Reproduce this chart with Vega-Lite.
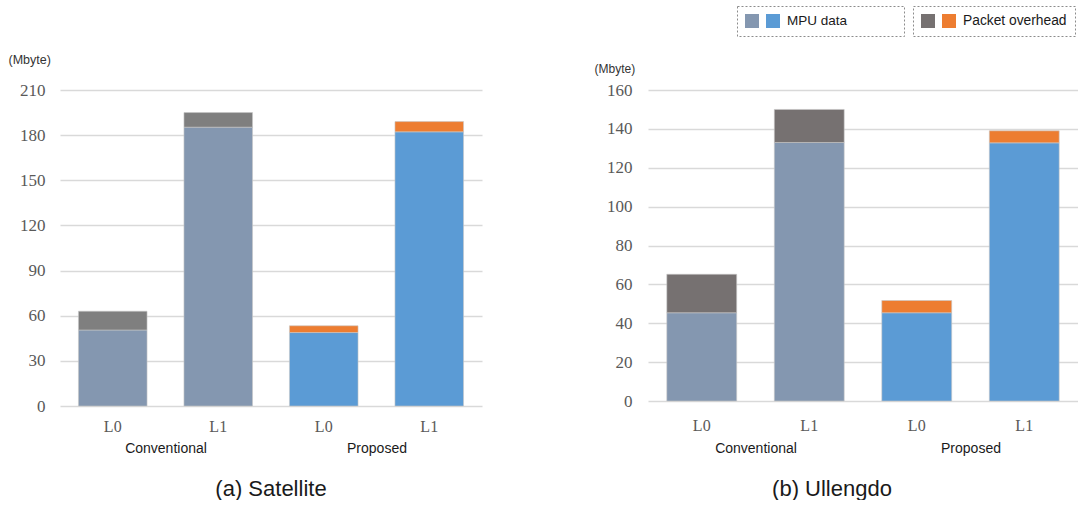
{
  "$schema": "https://vega.github.io/schema/vega-lite/v6.json",
  "background": "white",
  "padding": {"left": 8, "top": 5, "right": 0, "bottom": 0},
  "config": {"view": {"stroke": null}, "font": "Liberation Sans", "legend": {"strokeDash": [2, 2], "strokeColor": "#8c8c8c"}},
  "data": {"values": [
    {"panel": "Satellite", "scheme": "Conventional", "level": "L0", "bar": "Conventional L0", "mpu": 50.5, "total": 63},
    {"panel": "Satellite", "scheme": "Conventional", "level": "L1", "bar": "Conventional L1", "mpu": 185.3, "total": 195},
    {"panel": "Satellite", "scheme": "Proposed", "level": "L0", "bar": "Proposed L0", "mpu": 48.8, "total": 53.3},
    {"panel": "Satellite", "scheme": "Proposed", "level": "L1", "bar": "Proposed L1", "mpu": 182.2, "total": 189},
    {"panel": "Ullengdo", "scheme": "Conventional", "level": "L0", "bar": "Conventional L0", "mpu": 45.4, "total": 65.2},
    {"panel": "Ullengdo", "scheme": "Conventional", "level": "L1", "bar": "Conventional L1", "mpu": 133, "total": 150},
    {"panel": "Ullengdo", "scheme": "Proposed", "level": "L0", "bar": "Proposed L0", "mpu": 45.4, "total": 51.7},
    {"panel": "Ullengdo", "scheme": "Proposed", "level": "L1", "bar": "Proposed L1", "mpu": 132.8, "total": 139}
  ]},
  "bounds": "flush",
  "spacing": 166,
  "resolve": {"scale": {"fill": "independent", "color": "independent"}, "legend": {"fill": "independent", "color": "independent"}},
  "hconcat": [
    {
      "width": 422,
      "height": 316,
      "title": {"text": "(a) Satellite", "orient": "bottom", "fontSize": 22, "fontWeight": "normal", "color": "#1a1a1a", "offset": 24},
      "transform": [{"filter": "datum.panel == 'Satellite'"}],
      "layer": [
        {
          "encoding": {
            "x": {"field": "bar", "type": "nominal", "sort": null, "scale": {"paddingInner": 0.35, "paddingOuter": 0.175},
                  "axis": {"orient": "bottom", "title": null, "labelExpr": "split(datum.label, ' ')[1]", "labelAngle": 0, "ticks": false, "domain": false, "labelFont": "Liberation Serif", "labelFontSize": 16, "labelColor": "#595959", "labelPadding": 12}},
            "y": {"field": "mpu", "type": "quantitative", "scale": {"domain": [0, 210]},
                  "axis": {"title": "(Mbyte)", "titleAngle": 0, "titleAlign": "left", "titleBaseline": "middle", "titleX": -52, "titleY": -31, "titleFontSize": 12.5, "titleFontWeight": "normal", "titleColor": "#333333", "values": [0, 30, 60, 90, 120, 150, 180, 210], "grid": true, "gridColor": "#d9d9d9", "gridWidth": 1.5, "domain": false, "ticks": false, "labelFont": "Liberation Serif", "labelFontSize": 17, "labelColor": "#595959", "labelPadding": 15}}
          },
          "layer": [
            {"mark": {"type": "bar", "stroke": "#c8c8c8", "strokeWidth": 0.6},
             "encoding": {"fill": {"field": "scheme", "type": "nominal", "scale": {"domain": ["Conventional", "Proposed"], "range": ["#8497b0", "#5b9bd5"]}, "legend": null}}},
            {"mark": {"type": "bar", "stroke": "#c8c8c8", "strokeWidth": 0.6},
             "encoding": {"y2": {"field": "total"}, "color": {"field": "scheme", "type": "nominal", "scale": {"domain": ["Conventional", "Proposed"], "range": ["#7f7f7f", "#ed7d31"]}, "legend": null}}}
          ]
        },
        {
          "mark": {"type": "text", "text": ""},
          "encoding": {
            "x": {"field": "scheme", "type": "nominal", "scale": {"paddingInner": 0, "paddingOuter": 0},
                  "axis": {"orient": "bottom", "title": null, "labelAngle": 0, "ticks": false, "domain": false, "labelFontSize": 14, "labelColor": "#1a1a1a", "labelPadding": 35}}
          }
        }
      ],
      "resolve": {"scale": {"x": "independent"}, "axis": {"x": "independent"}}
    },
    {
      "width": 430,
      "height": 311,
      "title": {"text": "(b) Ullengdo", "orient": "bottom", "fontSize": 22, "fontWeight": "normal", "color": "#1a1a1a", "offset": 24, "dx": -31},
      "transform": [{"filter": "datum.panel == 'Ullengdo'"}],
      "layer": [
        {
          "encoding": {
            "x": {"field": "bar", "type": "nominal", "sort": null, "scale": {"paddingInner": 0.35, "paddingOuter": 0.175},
                  "axis": {"orient": "bottom", "title": null, "labelExpr": "split(datum.label, ' ')[1]", "labelAngle": 0, "ticks": false, "domain": false, "labelFont": "Liberation Serif", "labelFontSize": 16, "labelColor": "#595959", "labelPadding": 16}},
            "y": {"field": "mpu", "type": "quantitative", "scale": {"domain": [0, 160]},
                  "axis": {"title": "(Mbyte)", "titleAngle": 0, "titleAlign": "left", "titleBaseline": "middle", "titleX": -54, "titleY": -22, "titleFontSize": 12, "titleFontWeight": "normal", "titleColor": "#333333", "values": [0, 20, 40, 60, 80, 100, 120, 140, 160], "grid": true, "gridColor": "#d9d9d9", "gridWidth": 1.5, "domain": false, "ticks": false, "labelFont": "Liberation Serif", "labelFontSize": 17, "labelColor": "#595959", "labelPadding": 16}}
          },
          "layer": [
            {"mark": {"type": "bar", "stroke": "#c8c8c8", "strokeWidth": 0.6},
             "encoding": {"fill": {"field": "scheme", "type": "nominal", "scale": {"domain": ["Conventional", "Proposed"], "range": ["#8497b0", "#5b9bd5"]},
               "legend": {"title": null, "orient": "none", "legendX": 89, "legendY": -84, "direction": "horizontal", "symbolType": "square", "symbolSize": 196, "symbolStrokeWidth": 0, "symbolOpacity": 1, "labelExpr": "datum.value == 'Proposed' ? 'MPU data\u00a0\u00a0\u00a0\u00a0\u00a0\u00a0\u00a0\u00a0\u00a0\u00a0\u00a0\u00a0\u00a0\u200b' : ''", "labelFontSize": 13.5, "labelColor": "#1a1a1a", "labelOffset": 7, "columnPadding": 0, "padding": 8}}}},
            {"mark": {"type": "bar", "stroke": "#c8c8c8", "strokeWidth": 0.6},
             "encoding": {"y2": {"field": "total"}, "color": {"field": "bar", "type": "nominal", "scale": {"domain": ["Conventional L0", "Conventional L1", "Proposed L0", "Proposed L1"], "range": ["#767171", "#767171", "#ed7d31", "#ed7d31"]},
               "legend": {"title": null, "values": ["Conventional L0", "Proposed L0"], "orient": "none", "legendX": 265, "legendY": -84, "direction": "horizontal", "symbolType": "square", "symbolSize": 196, "symbolStrokeWidth": 0, "symbolOpacity": 1, "labelExpr": "datum.value == 'Proposed L0' ? 'Packet overhead' : ''", "labelFontSize": 13.8, "labelColor": "#1a1a1a", "labelOffset": 7, "columnPadding": 0, "padding": 8}}}}
          ]
        },
        {
          "mark": {"type": "text", "text": ""},
          "encoding": {
            "x": {"field": "scheme", "type": "nominal", "scale": {"paddingInner": 0, "paddingOuter": 0},
                  "axis": {"orient": "bottom", "title": null, "labelAngle": 0, "ticks": false, "domain": false, "labelFontSize": 14, "labelColor": "#1a1a1a", "labelPadding": 40}}
          }
        }
      ],
      "resolve": {"scale": {"x": "independent"}, "axis": {"x": "independent"}}
    }
  ]
}
